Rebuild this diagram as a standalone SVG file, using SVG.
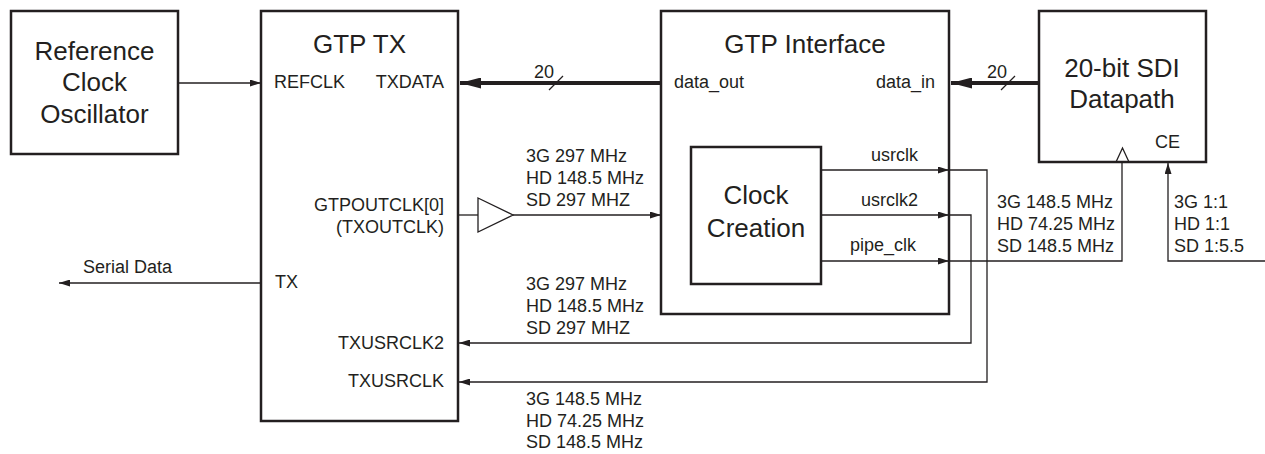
<svg xmlns="http://www.w3.org/2000/svg" width="1265" height="454" viewBox="0 0 1265 454">
<style>
.box{fill:#fff;stroke:#231f20;stroke-width:2.5}
.w{fill:none;stroke:#231f20;stroke-width:1.3}
.bus{fill:none;stroke:#231f20;stroke-width:4}
.big{font-family:"Liberation Sans",Arial,sans-serif;font-size:26px;fill:#231f20}
.sm{font-family:"Liberation Sans",Arial,sans-serif;font-size:18px;fill:#231f20}
.mid{text-anchor:middle}
.end{text-anchor:end}
</style>
<defs>
<marker id="a" viewBox="0 0 11 7" refX="11" refY="3.5" markerWidth="11" markerHeight="7" markerUnits="userSpaceOnUse" orient="auto">
<path d="M0,0 L11,3.5 L0,7 Z" fill="#231f20"/>
</marker>
<marker id="ab" viewBox="0 0 21 11" refX="21" refY="5.5" markerWidth="21" markerHeight="11" markerUnits="userSpaceOnUse" orient="auto">
<path d="M0,0 L21,5.5 L0,11 Z" fill="#231f20"/>
</marker>
</defs>

<g id="refclk">
<rect class="box" x="11" y="11" width="167" height="143"/>
<text class="big mid" x="94.5" y="60">Reference</text>
<text class="big mid" x="94.5" y="91">Clock</text>
<text class="big mid" x="94.5" y="123">Oscillator</text>
</g>

<g id="gtptx">
<rect class="box" x="261" y="11" width="197" height="410"/>
<text class="big mid" x="359.5" y="53">GTP TX</text>
<text class="sm" x="274" y="88">REFCLK</text>
<text class="sm end" x="444" y="88">TXDATA</text>
<text class="sm end" x="444" y="211">GTPOUTCLK[0]</text>
<text class="sm end" x="444" y="233">(TXOUTCLK)</text>
<text class="sm" x="275" y="288">TX</text>
<text class="sm end" x="444" y="349">TXUSRCLK2</text>
<text class="sm end" x="444" y="387">TXUSRCLK</text>
</g>

<g id="gtpif">
<rect class="box" x="661" y="11" width="288" height="303"/>
<text class="big mid" x="805" y="53">GTP Interface</text>
<text class="sm" x="674" y="88">data_out</text>
<text class="sm end" x="935" y="88">data_in</text>
<text class="sm end" x="918" y="161">usrclk</text>
<text class="sm end" x="918" y="206">usrclk2</text>
<text class="sm end" x="916" y="251">pipe_clk</text>
</g>

<g id="clkcreate">
<rect class="box" x="691" y="147" width="130" height="137"/>
<text class="big mid" x="756" y="204">Clock</text>
<text class="big mid" x="756" y="237">Creation</text>
</g>

<g id="sdi">
<rect class="box" x="1039" y="11" width="167" height="151"/>
<text class="big mid" x="1122" y="77">20-bit SDI</text>
<text class="big mid" x="1122" y="108">Datapath</text>
<text class="sm" x="1155" y="148">CE</text>
<path class="w" d="M1116,162 L1122.5,148 L1129,162"/>
</g>

<g id="buffer">
<path class="w" d="M478,198 L513,215 L478,232 Z" fill="#fff"/>
</g>

<g id="connectors">
<path class="w" d="M178,83 H261" marker-end="url(#a)"/>
<path class="bus" d="M661,83 H460" marker-end="url(#ab)"/>
<path class="bus" d="M1039,83 H951" marker-end="url(#ab)"/>
<path class="w" d="M549,90 L563,76"/>
<path class="w" d="M1001,90 L1015,76"/>
<path class="w" d="M458,215 H478"/>
<path class="w" d="M513,215 H661" marker-end="url(#a)"/>
<path class="w" d="M261,283 H59" marker-end="url(#a)"/>
<path class="w" d="M821,170 H949" marker-end="url(#a)"/>
<path class="w" d="M821,215 H949" marker-end="url(#a)"/>
<path class="w" d="M821,261 H949" marker-end="url(#a)"/>
<path class="w" d="M949,170 H987 V382 H459" marker-end="url(#a)"/>
<path class="w" d="M949,215 H971 V343 H459" marker-end="url(#a)"/>
<path class="w" d="M949,261 H1122 V162"/>
<path class="w" d="M1265,261 H1168 V163" marker-end="url(#a)"/>
</g>

<g id="labels">
<text class="sm" x="534" y="78">20</text>
<text class="sm" x="987" y="78">20</text>
<text class="sm" x="526" y="162">3G 297 MHz</text>
<text class="sm" x="526" y="184">HD 148.5 MHz</text>
<text class="sm" x="526" y="206">SD 297 MHZ</text>
<text class="sm" x="83" y="273">Serial Data</text>
<text class="sm" x="526" y="290">3G 297 MHz</text>
<text class="sm" x="526" y="312">HD 148.5 MHz</text>
<text class="sm" x="526" y="334">SD 297 MHZ</text>
<text class="sm" x="526" y="405">3G 148.5 MHz</text>
<text class="sm" x="526" y="427">HD 74.25 MHz</text>
<text class="sm" x="526" y="448">SD 148.5 MHz</text>
<text class="sm" x="997" y="208">3G 148.5 MHz</text>
<text class="sm" x="997" y="230">HD 74.25 MHz</text>
<text class="sm" x="997" y="252">SD 148.5 MHz</text>
<text class="sm" x="1174" y="208">3G 1:1</text>
<text class="sm" x="1174" y="230">HD 1:1</text>
<text class="sm" x="1174" y="252">SD 1:5.5</text>
</g>
</svg>
